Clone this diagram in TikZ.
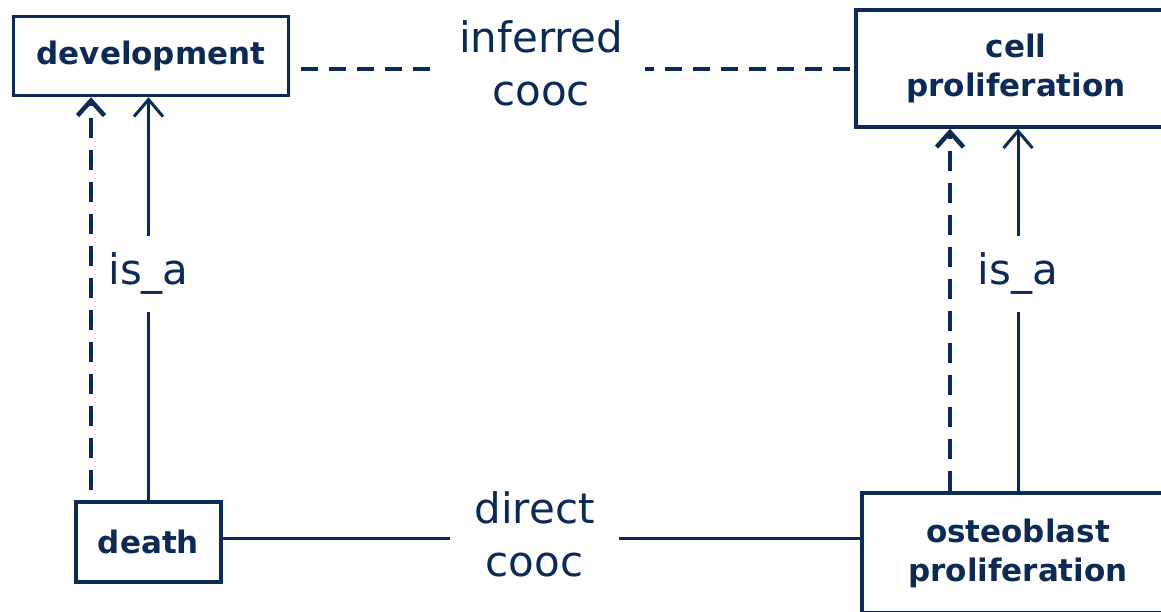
\documentclass[tikz,border=0pt]{standalone}
\usepackage{fontspec}
\setmainfont{DejaVu Sans}
\usetikzlibrary{arrows.meta}
\definecolor{navy}{RGB}{12,42,86}
\tikzset{
  term/.style={draw=navy, line width=3.5pt, fill=white, text=navy, align=center,
    font=\bfseries\fontsize{31}{39}\selectfont, inner sep=0pt},
  rel/.style={fill=white, text=navy, align=center, inner xsep=22pt, inner ysep=17pt,
    font=\fontsize{42}{53}\selectfont},
  link/.style={draw=navy, line width=3pt},
  dashlink/.style={draw=navy, line width=4pt, dash pattern=on 17pt off 11pt, dash phase=17.5pt},
  isa/.style={draw=navy, line width=3pt, -{Straight Barb[length=17pt,width=29pt]}},
  inferred/.style={draw=navy, line width=4.5pt, dash pattern=on 20pt off 12pt,
    -{Straight Barb[length=15pt,width=27pt]}}
}
\begin{document}
\begin{tikzpicture}[x=1pt,y=-1pt]
  \useasboundingbox (0,0) rectangle (1161,611);
  \clip (0,0) rectangle (1161,611);
  \fill[white] (0,0) rectangle (1161,611);

  % ontology terms
  \node[term, minimum width=275pt, minimum height=79pt] (dev) at (151,56) {development};
  \node[term, minimum width=320pt, minimum height=117pt] (cell) at (1016,68.5) {cell\\proliferation};
  \node[term, minimum width=145pt, minimum height=80pt] (death) at (148.5,542) {death};
  \node[term, minimum width=312pt, minimum height=120pt] (osteo) at (1018,553) {osteoblast\\proliferation};

  % co-occurrence links
  \draw[dashlink] (dev.east |- cell.west) -- (cell.west)
    node[rel, pos=0.445, yshift=5pt] (infl) {inferred\\cooc};
  \draw[link] ([yshift=4pt]death.east) -- ([yshift=4pt]death.east -| osteo.west)
    node[rel, pos=0.489, yshift=4pt, inner xsep=24pt] (dirl) {direct\\cooc};

  % is_a relations
  \draw[isa] (death.north) -- (death.north |- dev.south)
    node[rel, pos=0.562, inner xsep=4pt] (isal) {is\_a};
  \draw[inferred, dash phase=22pt] ([xshift=-57.5pt]death.north) -- ([xshift=-57.5pt]death.north |- dev.south);
  \draw[isa] (osteo.north) -- (osteo.north |- cell.south)
    node[rel, pos=0.60, inner xsep=4pt] (isar) {is\_a};
  \draw[inferred] ([xshift=-68pt]osteo.north) -- ([xshift=-68pt]osteo.north |- cell.south);
\end{tikzpicture}
\end{document}
